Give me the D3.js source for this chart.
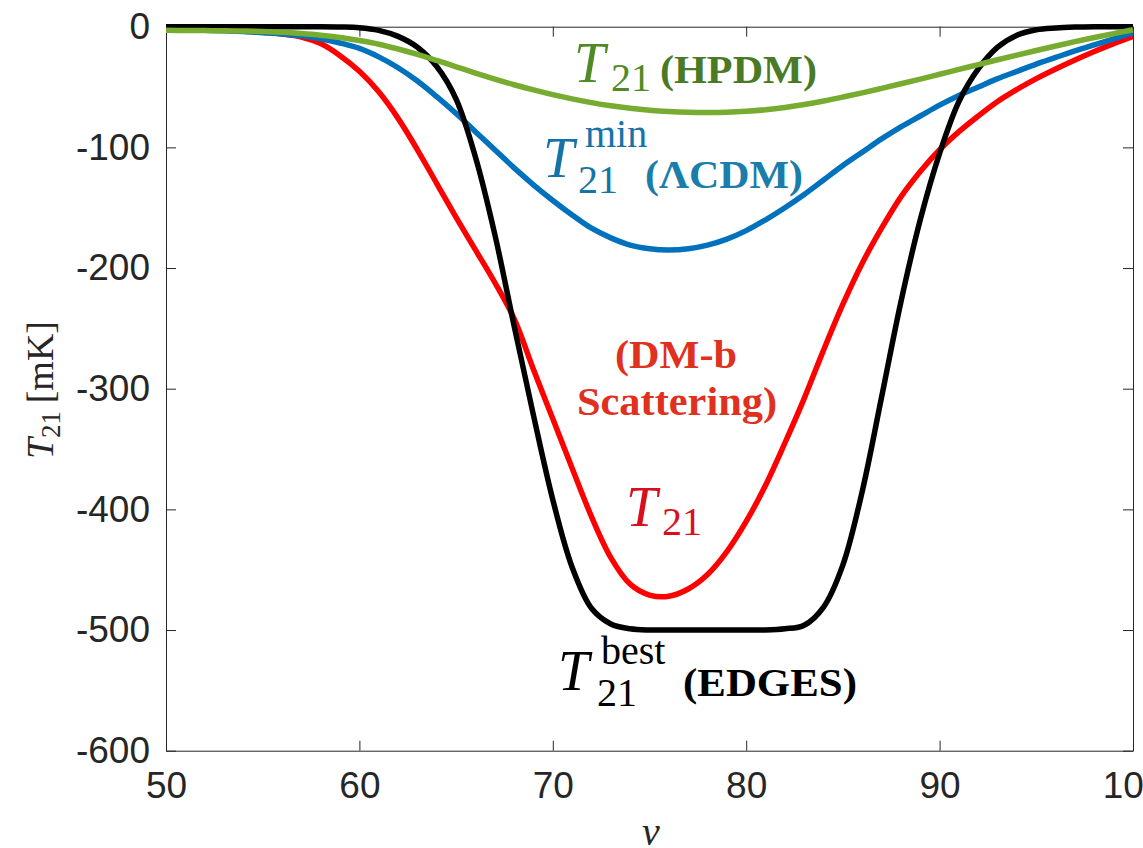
<!DOCTYPE html>
<html><head><meta charset="utf-8">
<script src="https://cdn.jsdelivr.net/npm/d3@7"></script>
<style>
html,body{margin:0;padding:0;background:#fff;overflow:hidden}
svg{display:block}
.tick text{font-family:"Liberation Sans",Arial,Helvetica,sans-serif;fill:#262626}
</style></head>
<body><svg id="c" width="1143" height="848"></svg>
<script>
// ---- data ----
const nu = d3.range(50, 101); // 50..100, step 1
const edges = [0,0,0,0,0,0,0,0,0,-0.2,-0.8,-3,-8,-17,-33,-60,-108,-172,-248,-322,-392,-448,-482,-495,-499,-500,-500,-500,-500,-500,-500,-500,-499,-496,-481,-446,-385,-307,-228,-160,-105,-62,-35,-17,-7,-2.5,-1,-0.3,0,0,0];
const dmb = [-2,-2.2,-2.5,-3,-3.7,-4.6,-6,-8.5,-14,-24,-37,-54,-76,-102,-130,-158,-185,-212,-242,-284,-325,-366,-406,-440,-462,-471,-472,-466,-454,-435,-410,-380,-345,-308,-268,-230,-196,-167,-141,-120,-102,-87,-74,-62,-52,-43,-35,-27.5,-20.5,-14,-8];
const lcdm = [-2.5,-2.7,-3,-3.4,-4,-5,-6,-7.5,-10,-13.5,-18,-25,-34,-45,-58,-72,-87,-102,-117,-131,-144,-156,-167,-175,-181,-184,-185,-184,-181,-176,-169,-160,-150,-139,-127,-115,-104,-93,-83,-74,-65,-57,-50,-43,-37,-31,-25.5,-20,-15,-10,-5];
const hpdm = [-3,-3.1,-3.2,-3.4,-3.6,-4,-4.6,-5.6,-7,-9,-11.5,-14.5,-18.5,-23,-28,-33.2,-38.4,-43.4,-48.1,-52.4,-56.3,-59.8,-62.9,-65.5,-67.6,-69.2,-70.3,-71,-71.2,-70.9,-70.1,-68.8,-66.9,-64.5,-61.6,-58.3,-54.8,-51.1,-47.3,-43.4,-39.4,-35.4,-31.4,-27.4,-23.5,-19.7,-16,-12.4,-9,-5.7,-2.5];
const xTicks = [50,60,70,80,90,100];
const yTicks = [0,-100,-200,-300,-400,-500,-600];

const series = [
  {name:"dmb", values:dmb, color:"#FF0000"},
  {name:"lcdm", values:lcdm, color:"#0072BD"},
  {name:"edges", values:edges, color:"#000000"},
  {name:"hpdm", values:hpdm, color:"#77AC30"}
];

const svg = d3.select("#c");
const L=166, R=1133, T=26.7, B=750.7;
const x = d3.scaleLinear().domain([50,100]).range([L,R]);
const y = d3.scaleLinear().domain([-600,0]).range([B,T]);

// axes
const axStyle = g => {
  g.selectAll(".domain").attr("stroke","#262626").attr("stroke-width",1);
  g.selectAll(".tick line").attr("stroke","#262626").attr("stroke-width",1);
  g.selectAll(".tick text").attr("font-size",37).attr("fill","#262626");
};
const fmt = d => String(d);
svg.append("g").attr("transform",`translate(0,${B})`)
  .call(d3.axisBottom(x).tickValues(xTicks).tickSize(-10).tickSizeOuter(0).tickPadding(21).tickFormat(fmt))
  .call(axStyle);
svg.append("g").attr("transform",`translate(0,${T})`)
  .call(d3.axisTop(x).tickValues(xTicks).tickSize(-10).tickSizeOuter(0).tickFormat(""))
  .call(axStyle);
svg.append("g").attr("transform",`translate(${L},0)`)
  .call(d3.axisLeft(y).tickValues(yTicks).tickSize(-10).tickSizeOuter(0).tickPadding(16).tickFormat(fmt))
  .call(axStyle);
svg.append("g").attr("transform",`translate(${R},0)`)
  .call(d3.axisRight(y).tickValues(yTicks).tickSize(-10).tickSizeOuter(0).tickFormat(""))
  .call(axStyle);

// curves
const line = d3.line().x((d,i)=>x(nu[i])).y(d=>y(d)).curve(d3.curveCatmullRom.alpha(0.5));
svg.append("g").selectAll("path").data(series).join("path")
  .attr("d", d=>line(d.values))
  .attr("fill","none").attr("stroke",d=>d.color).attr("stroke-width",5.5)
  .attr("stroke-linejoin","round").attr("stroke-linecap","butt");

// annotations
const serif = '"Liberation Serif","Times New Roman",serif';
function txt(s, px, py, opt){
  const t = svg.append("text").attr("x",px).attr("y",py).text(s)
    .attr("font-family",serif).attr("font-size",opt.size).attr("fill",opt.color);
  if(opt.italic) t.attr("font-style","italic");
  if(opt.bold) t.attr("font-weight","bold");
  if(opt.len) t.attr("textLength",opt.len).attr("lengthAdjust","spacingAndGlyphs");
  if(opt.anchor) t.attr("text-anchor",opt.anchor);
  return t;
}
// green
txt("T",574,82,{size:56,italic:true,color:"#4F8A24"});
txt("21",611,91,{size:40,color:"#4F8A24"});
txt("(HPDM)",660,83,{size:41,bold:true,color:"#4A7A25",len:157});
// blue
txt("T",543,177,{size:56,italic:true,color:"#1573A8"});
txt("min",585,147,{size:40,color:"#1573A8"});
txt("21",578,193,{size:40,color:"#1573A8"});
txt("(ΛCDM)",645,188,{size:41,bold:true,color:"#1A7DAA",len:158});
// red
txt("(DM-b",615,368,{size:40,bold:true,color:"#E0301E",len:122});
txt("Scattering)",577,415,{size:40,bold:true,color:"#E0301E",len:200});
txt("T",626,526,{size:56,italic:true,color:"#D8101E"});
txt("21",662,535,{size:40,color:"#D8101E"});
// black
txt("T",558,690,{size:56,italic:true,color:"#000"});
txt("best",601,664,{size:40,color:"#000"});
txt("21",597,706,{size:40,color:"#000"});
txt("(EDGES)",683,696,{size:41,bold:true,color:"#000",len:174});

// axis labels
const yl = svg.append("text").attr("transform","translate(53,390) rotate(-90)")
  .attr("text-anchor","middle").attr("font-family",serif).attr("font-size",38).attr("fill","#262626");
yl.append("tspan").attr("font-style","italic").text("T");
yl.append("tspan").attr("font-size",27).attr("dy",7).text("21");
yl.append("tspan").attr("dy",-7).text("\u2009[mK]");
svg.append("text").attr("x",651).attr("y",845).attr("text-anchor","middle")
  .attr("font-family",serif).attr("font-style","italic").attr("font-size",40).attr("fill","#262626").text("ν");
</script></body></html>
